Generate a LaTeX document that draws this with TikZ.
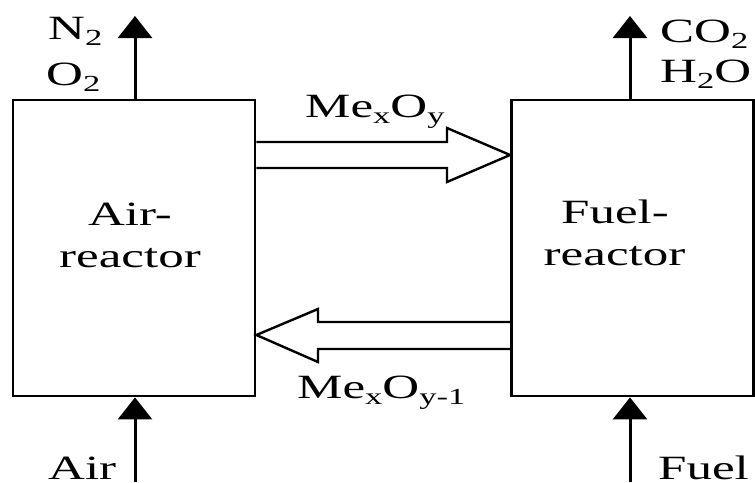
\documentclass[tikz,border=0pt]{standalone}
\usepackage{fontspec}
\setmainfont{Liberation Serif}[FakeStretch=1.5]
\usetikzlibrary{arrows.meta}
\newcommand\dn[1]{\raisebox{-6pt}{\fontsize{23}{25}\selectfont #1}}
\begin{document}
\begin{tikzpicture}[x=1pt,y=-1pt,
  reactor/.style={draw,line width=2.8pt,minimum width=242pt,minimum height=296pt,inner sep=0pt},
  lbl/.style={inner sep=0pt,font=\fontsize{34}{40}\selectfont},
  flow/.style={line width=3pt,-{Triangle[length=22pt,width=34pt]}},
  block/.style={line width=2.4pt,line join=miter}]
\useasboundingbox (0,0) rectangle (755,482);
\node[reactor] (air) at (134,248) {};
\node[reactor] (fuel) at (632.5,248) {};
% labels inside boxes
\node[lbl,anchor=base] (a1) at (130,225) {Air-};
\node[lbl,anchor=base] (a2) at (130,267) {reactor};
\node[lbl,anchor=base] (f1) at (615,223) {Fuel-};
\node[lbl,anchor=base] (f2) at (614.5,265) {reactor};
% outlet / inlet coordinates
\coordinate (airout) at (135,16);
\coordinate (fuelout) at (630,16);
\coordinate (airin) at (135,482);
\coordinate (fuelin) at (630,482);
\draw[flow] (air.north -| airout) -- (airout);
\draw[flow] (fuel.north -| fuelout) -- (fuelout);
\draw[flow] (airin) -- (air.south -| airin);
\draw[flow] (fuelin) -- (fuel.south -| fuelin);
% stream labels
\node[lbl,anchor=base west] (n2) at (48,39) {N\dn{2}};
\node[lbl,anchor=base west] (o2) at (46,85) {O\dn{2}};
\node[lbl,anchor=base west] (co2) at (660,42) {CO\dn{2}};
\node[lbl,anchor=base west] (h2o) at (660,82) {H\dn{2}O};
\node[lbl,anchor=base west] (airl) at (48,479.5) {Air};
\node[lbl,anchor=base west] (fuell) at (658,479.5) {Fuel};
\node[lbl,anchor=base west] (meo) at (305,117) {Me\dn{x}O\dn{y}};
\node[lbl,anchor=base west] (meo1) at (297,398) {Me\dn{x}O\dn{y-1}};
% hollow block arrows
\draw[block] (air.east |- 0,142) -- (447,142) -- (447,128) -- (fuel.west |- 0,155) -- (447,182) -- (447,168) -- (air.east |- 0,168);
\draw[block] (fuel.west |- 0,322) -- (318,322) -- (318,309) -- (air.east |- 0,335) -- (318,362) -- (318,349) -- (fuel.west |- 0,349);
\end{tikzpicture}
\end{document}
